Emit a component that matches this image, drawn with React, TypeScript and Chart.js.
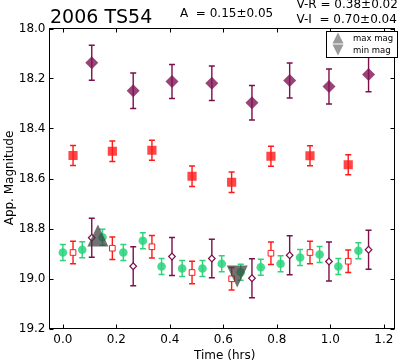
import React, { useEffect, useRef } from "react";
import { Chart, registerables } from "chart.js";

Chart.register(...registerables);

const FONT = "DejaVu Sans";

// Tick values
const xTicks = [0.0, 0.2, 0.4, 0.6, 0.8, 1.0, 1.2];
const yTicks = [18.0, 18.2, 18.4, 18.6, 18.8, 19.0, 19.2];

// Filled purple diamonds (upper row)
const timeDiamond = [0.108, 0.263, 0.408, 0.557, 0.707, 0.848, 0.995, 1.143];
const magDiamond = [18.137, 18.249, 18.212, 18.219, 18.297, 18.208, 18.232, 18.184];
const errDiamond = [0.07, 0.071, 0.068, 0.069, 0.069, 0.07, 0.07, 0.069];

// Filled red squares (middle row)
const timeSquare = [0.038, 0.185, 0.333, 0.483, 0.631, 0.778, 0.924, 1.067];
const magSquare = [18.508, 18.491, 18.487, 18.591, 18.615, 18.511, 18.509, 18.545];
const errSquare = [0.04, 0.041, 0.04, 0.041, 0.041, 0.04, 0.04, 0.04];

// Open purple diamonds (lower row)
const timeOpenDiamond = [0.108, 0.263, 0.408, 0.557, 0.707, 0.848, 0.995, 1.143];
const magOpenDiamond = [18.837, 18.951, 18.912, 18.92, 18.999, 18.907, 18.932, 18.885];
const errOpenDiamond = [0.078, 0.078, 0.076, 0.077, 0.078, 0.078, 0.078, 0.078];

// Open red squares (lower row)
const timeOpenSquare = [0.038, 0.185, 0.333, 0.483, 0.631, 0.778, 0.924, 1.067];
const magOpenSquare = [18.896, 18.879, 18.873, 18.976, 19.001, 18.899, 18.896, 18.931];
const errOpenSquare = [0.045, 0.045, 0.045, 0.045, 0.045, 0.045, 0.045, 0.045];

// Green circles (lower row)
const timeCircle = [0.0, 0.0725, 0.148, 0.226, 0.299, 0.369, 0.446, 0.522, 0.594, 0.665, 0.74, 0.814, 0.887, 0.96, 1.03, 1.105];
const magCircle = [18.896, 18.885, 18.835, 18.896, 18.849, 18.952, 18.96, 18.96, 18.941, 18.975, 18.955, 18.941, 18.916, 18.904, 18.952, 18.889];
const errCircle = [0.032, 0.032, 0.032, 0.032, 0.032, 0.032, 0.032, 0.032, 0.032, 0.032, 0.032, 0.032, 0.032, 0.032, 0.032, 0.032];

// Max / min markers
const maxTime = [0.131];
const maxMag = [18.828];
const minTime = [0.652];
const minMag = [18.992];

const legendLabels = ["max mag", "min mag"];
const titleText = "2006 TS54";
const ampText = "A  = 0.15\u00b10.05";
const colorTexts = ["V-R = 0.38\u00b10.02", "V-I  = 0.70\u00b10.04"];
const xTitle = "Time (hrs)";
const yTitle = "App. Magnitude";

const PURPLE = "#7d0f4b";
const PURPLE_FILL = "rgba(128, 20, 85, 0.8)";
const RED = "#ff1a1a";
const RED_FILL = "rgba(255, 25, 25, 0.8)";
const GREEN = "#2fd27a";
const GREEN_FILL = "rgba(40, 212, 125, 0.85)";
const TRI = "rgba(60, 60, 60, 0.72)";
const TRI_LEGEND = "rgba(120, 120, 120, 0.75)";

function pts(xs: number[], ys: number[]) {
  return xs.map((x, i) => ({ x, y: ys[i] }));
}

const errorBarPlugin = {
  id: "errorBars",
  beforeDatasetDraw(chart: any, args: any) {
    const ds = chart.data.datasets[args.index];
    const ctx = chart.ctx;
    if (ds.triangle) {
      // triangle markers (matplotlib-like, width == height)
      ctx.save();
      ctx.fillStyle = TRI;
      const w = 21, h = 22;
      args.meta.data.forEach((el: any) => {
        const x = el.x, y = el.y;
        ctx.beginPath();
        if (ds.triangle === "up") {
          ctx.moveTo(x, y - h / 2);
          ctx.lineTo(x + w / 2, y + h / 2);
          ctx.lineTo(x - w / 2, y + h / 2);
        } else {
          ctx.moveTo(x - w / 2, y - h / 2);
          ctx.lineTo(x + w / 2, y - h / 2);
          ctx.lineTo(x, y + h / 2);
        }
        ctx.closePath();
        ctx.fill();
      });
      ctx.restore();
      return;
    }
    if (!ds.errors) return;
    const ys = chart.scales.y;
    ctx.save();
    ctx.strokeStyle = ds.errColor;
    ctx.lineWidth = 1.4;
    args.meta.data.forEach((el: any, i: number) => {
      const v = ds.data[i].y;
      const e = ds.errors[i];
      const x = el.x;
      const y1 = ys.getPixelForValue(v - e);
      const y2 = ys.getPixelForValue(v + e);
      ctx.beginPath();
      ctx.moveTo(x, y1);
      ctx.lineTo(x, y2);
      ctx.moveTo(x - 3, y1);
      ctx.lineTo(x + 3, y1);
      ctx.moveTo(x - 3, y2);
      ctx.lineTo(x + 3, y2);
      ctx.stroke();
    });
    ctx.restore();
  },
};

const framePlugin = {
  id: "frame",
  beforeDraw(chart: any) {
    const ctx = chart.ctx;
    ctx.save();
    ctx.fillStyle = "#fff";
    ctx.fillRect(0, 0, chart.width, chart.height);
    ctx.restore();
  },
  afterDatasetsDraw(chart: any) {
    const ctx = chart.ctx;
    const { left, right, top, bottom } = chart.chartArea;
    const xs = chart.scales.x;
    const ys = chart.scales.y;
    ctx.save();
    ctx.strokeStyle = "#000";
    ctx.lineWidth = 1;
    ctx.strokeRect(left, top, right - left, bottom - top);
    ctx.beginPath();
    const tl = 4;
    xTicks.forEach((v) => {
      const x = Math.round(xs.getPixelForValue(v)) + 0.5;
      ctx.moveTo(x, bottom);
      ctx.lineTo(x, bottom - tl);
      ctx.moveTo(x, top);
      ctx.lineTo(x, top + tl);
    });
    yTicks.forEach((v) => {
      const y = Math.round(ys.getPixelForValue(v)) + 0.5;
      ctx.moveTo(left, y);
      ctx.lineTo(left + tl, y);
      ctx.moveTo(right, y);
      ctx.lineTo(right - tl, y);
    });
    ctx.stroke();

    // legend box
    const bx = 326.5, by = 31.5, bw = 71, bh = 26;
    ctx.fillStyle = "#fff";
    ctx.fillRect(bx, by, bw, bh);
    ctx.strokeRect(bx, by, bw, bh);
    ctx.fillStyle = TRI_LEGEND;
    ctx.beginPath();
    ctx.moveTo(338, 32.5);
    ctx.lineTo(343.5, 43.5);
    ctx.lineTo(332.5, 43.5);
    ctx.closePath();
    ctx.fill();
    ctx.beginPath();
    ctx.moveTo(332.5, 44.5);
    ctx.lineTo(343.5, 44.5);
    ctx.lineTo(338, 55.5);
    ctx.closePath();
    ctx.fill();
    ctx.fillStyle = "#000";
    ctx.font = `8.5px "${FONT}"`;
    ctx.textAlign = "left";
    ctx.textBaseline = "middle";
    ctx.fillText(legendLabels[0], 353, 39);
    ctx.fillText(legendLabels[1], 353, 51);
    ctx.restore();
  },
  afterDraw(chart: any) {
    const ctx = chart.ctx;
    ctx.save();
    ctx.fillStyle = "#000";
    ctx.textBaseline = "alphabetic";
    ctx.textAlign = "left";
    ctx.font = `19px "${FONT}"`;
    ctx.fillText(titleText, 50, 23.3);
    ctx.font = `12px "${FONT}"`;
    ctx.fillText(ampText, 180, 17.3);
    ctx.fillText(colorTexts[0], 296.5, 8.3);
    ctx.fillText(colorTexts[1], 296.5, 22.7);
    ctx.textAlign = "center";
    ctx.fillText(xTitle, 224.7, 359);
    ctx.translate(13.3, 178);
    ctx.rotate(-Math.PI / 2);
    ctx.fillText(yTitle, 0, 0);
    ctx.restore();
  },
};

export default function App() {
  const ref = useRef<HTMLCanvasElement | null>(null);
  useEffect(() => {
    if (!ref.current) return;
    const tickFont = { family: FONT, size: 12 };
    const chart = new Chart(ref.current, {
      type: "scatter",
      data: {
        datasets: [
          {
            data: pts(timeCircle, magCircle),
            errors: errCircle,
            errColor: GREEN,
            pointStyle: "circle",
            pointRadius: 4.3,
            backgroundColor: GREEN_FILL,
            borderColor: GREEN_FILL,
            borderWidth: 0,
            order: 1,
          } as any,
          {
            data: pts(timeOpenSquare, magOpenSquare),
            errors: errOpenSquare,
            errColor: RED,
            pointStyle: "rect",
            pointRadius: 4,
            backgroundColor: "#fff",
            borderColor: RED,
            borderWidth: 1,
            order: 2,
          } as any,
          {
            data: pts(timeOpenDiamond, magOpenDiamond),
            errors: errOpenDiamond,
            errColor: PURPLE,
            pointStyle: "rectRot",
            pointRadius: 3.3,
            backgroundColor: "#fff",
            borderColor: PURPLE,
            borderWidth: 1.2,
            order: 3,
          } as any,
          {
            data: pts(timeSquare, magSquare),
            errors: errSquare,
            errColor: RED,
            pointStyle: "rect",
            pointRadius: 6.5,
            backgroundColor: RED_FILL,
            borderColor: RED_FILL,
            borderWidth: 0,
            order: 4,
          } as any,
          {
            data: pts(timeDiamond, magDiamond),
            errors: errDiamond,
            errColor: PURPLE,
            pointStyle: "rectRot",
            pointRadius: 6.5,
            backgroundColor: PURPLE_FILL,
            borderColor: PURPLE_FILL,
            borderWidth: 0,
            order: 5,
          } as any,
          {
            data: pts(maxTime, maxMag),
            triangle: "up",
            pointRadius: 0,
            order: -2,
          } as any,
          {
            data: pts(minTime, minMag),
            triangle: "down",
            pointRadius: 0,
            order: -1,
          } as any,
        ],
      },
      options: {
        responsive: false,
        animation: false,
        events: [],
        layout: { padding: { top: 28.5, right: 1.5, left: 0, bottom: 0 } },
        plugins: { legend: { display: false }, tooltip: { enabled: false }, title: { display: false } },
        scales: {
          x: {
            type: "linear",
            min: -0.05,
            max: 1.24,
            grid: { display: false, drawTicks: false },
            border: { display: false },
            ticks: {
              font: tickFont,
              color: "#000",
              padding: 4,
              maxRotation: 0,
              autoSkip: false,
              callback: (v: any) => Number(v).toFixed(1),
            },
            afterBuildTicks: (s: any) => {
              s.ticks = xTicks.map((v) => ({ value: v }));
            },
            afterFit: (s: any) => {
              s.height = 33.5;
            },
          },
          y: {
            type: "linear",
            reverse: true,
            min: 18.0,
            max: 19.2,
            grid: { display: false, drawTicks: false },
            border: { display: false },
            ticks: {
              font: tickFont,
              color: "#000",
              padding: 4,
              autoSkip: false,
              callback: (v: any) => Number(v).toFixed(1),
            },
            afterBuildTicks: (s: any) => {
              s.ticks = yTicks.map((v) => ({ value: v }));
            },
            afterFit: (s: any) => {
              s.width = 49.5;
            },
          },
        },
      } as any,
      plugins: [errorBarPlugin, framePlugin],
    });
    return () => chart.destroy();
  }, []);
  return (
    <div style={{ position: "absolute", left: 0, top: 0, width: 401, height: 362 }}>
      <canvas ref={ref} width={401} height={362} />
    </div>
  );
}
